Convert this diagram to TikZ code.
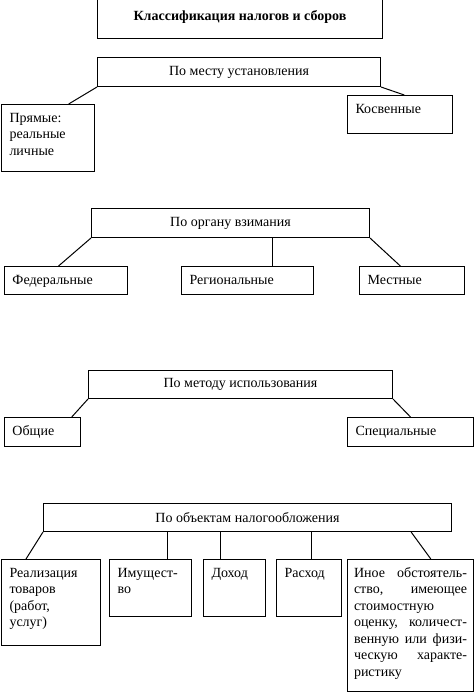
\documentclass[tikz,border=0pt]{standalone}
\usepackage{fontspec}
\setmainfont{Liberation Serif}
\usetikzlibrary{calc}

\begin{document}
\begin{tikzpicture}[x=1pt,y=-1pt,line width=1pt,font=\fontsize{14}{16.5}\selectfont,
  title/.style={draw,anchor=north west,inner xsep=0pt,inner ysep=4pt,font=\fontsize{14}{16.5}\selectfont\bfseries},
  group/.style={draw,anchor=north west,inner sep=0pt,minimum height=29pt},
  leaf/.style={draw,anchor=north west,align=left,inner xsep=8pt,inner ysep=6pt,text height=11.5pt}]
\useasboundingbox (0,0) rectangle (474,693);

\node[title,minimum width=285pt,text height=17pt,text depth=14pt] (head) at (97,-1) {Классификация налогов и сборов};

\node[group,minimum width=283pt] (place) at (97,57) {По месту установления};
\node[leaf,text width=77pt,text depth=43.5pt] (direct) at (1,104) {Прямые:\\реальные\\личные};
\node[leaf,text width=89pt,text depth=14.5pt] (indirect) at (347,95) {Косвенные};

\draw (place.south west) -- ($(direct.north west)!.72!(direct.north east)$);
\draw (place.south east) -- ($(indirect.north west)!.54!(indirect.north east)$);

\node[group,minimum width=278pt] (organ) at (91,208) {По органу взимания};
\node[leaf,text width=107pt,text depth=4.5pt] (federal) at (4,266) {Федеральные};
\node[leaf,text width=116pt,text depth=4.5pt] (regional) at (181,266) {Региональные};
\node[leaf,text width=89pt,text depth=4.5pt] (local) at (359,266) {Местные};
\coordinate (rtop) at ($(regional.north west)!.69!(regional.north east)$);

\draw (organ.south west) -- ($(federal.north west)!.44!(federal.north east)$);
\draw (organ.south -| rtop) -- (rtop);
\draw (organ.south east) -- ($(local.north west)!.39!(local.north east)$);

\node[group,minimum width=304pt,minimum height=28pt] (method) at (88,370) {По методу использования};
\node[leaf,text width=60pt,text depth=5.5pt] (general) at (4,417) {Общие};
\node[leaf,text width=110pt,text depth=5.5pt] (special) at (347,417) {Специальные};

\draw (method.south west) -- ($(general.north west)!.88!(general.north east)$);
\draw (method.south east) -- (special.north);

\node[group,minimum width=408pt,minimum height=28pt] (object) at (43,503) {По объектам налогообложения};
\node[leaf,text width=83pt,text depth=62.5pt] (sales) at (1,559) {Реализация\\товаров\\(работ,\\услуг)};
\node[leaf,text width=66pt,text depth=33.5pt] (property) at (109,559) {Имущест-\\во};
\node[leaf,text width=46pt,text depth=33.5pt] (income) at (203,559) {Доход};
\node[leaf,text width=49pt,text depth=33.5pt] (expense) at (276,559) {Расход};
\node[leaf,align=justify,inner xsep=6.5pt,text width=113pt,text depth=108.5pt] (other) at (347,559)
  {Иное обстоятель-\linebreak ство, имеющее\linebreak стоимостную\\ оценку, количест-\linebreak венную или физи-\linebreak ческую характе-\linebreak ристику};
\coordinate (ptop) at ($(property.north west)!.70!(property.north east)$);
\coordinate (itop) at ($(income.north west)!.27!(income.north east)$);
\coordinate (etop) at ($(expense.north west)!.54!(expense.north east)$);

\draw (object.south west) -- ($(sales.north west)!.25!(sales.north east)$);
\draw (object.south -| ptop) -- (ptop);
\draw (object.south -| itop) -- (itop);
\draw (object.south -| etop) -- (etop);
\draw ($(object.south west)!.9!(object.south east)$) -- ($(other.north west)!.66!(other.north east)$);

\end{tikzpicture}
\end{document}
